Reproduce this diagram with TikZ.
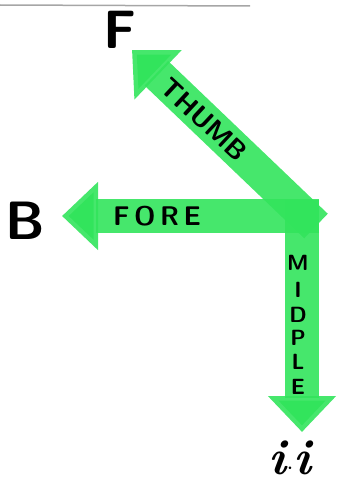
\documentclass[tikz,border=0pt]{standalone}
\usetikzlibrary{arrows.meta}
\definecolor{mkgreen}{RGB}{50,228,92}
\tikzset{
  bigarrow/.style={draw=mkgreen, line width=34pt, draw opacity=0.9,
    -{Triangle[width=66pt,length=36pt]}},
  lbl/.style={font=\sffamily\bfseries\fontsize{27}{27}\selectfont, inner sep=0pt},
  vlet/.style={font=\sffamily\bfseries\fontsize{22}{22}\selectfont, inner sep=0pt},
  axis/.style={font=\sffamily\bfseries\fontsize{54}{54}\selectfont, inner sep=0pt}
}
\begin{document}
\begin{tikzpicture}[x=1pt,y=-1pt]
\useasboundingbox (0,0) rectangle (339,487);
\draw[gray!70, line width=1.5pt] (0,5) -- (250,6);
\coordinate (Ot) at (316,226);
\coordinate (Of) at (319,216);
\coordinate (Om) at (302,200);
\coordinate (Tt) at (132,50);
\coordinate (Tf) at (62,216);
\coordinate (Tm) at (302,432);
\draw[bigarrow] (Of) -- (Tf);
\draw[bigarrow] (Om) -- (Tm);
\draw[bigarrow] (Ot) -- (Tt);
\node[lbl, rotate=-43] (thumb) at (204,120) {THUMB};
\node[lbl] (fore) at (157,216) {F\,O\,R\,E};
\node[vlet] (m1) at (298,263) {M};
\node[vlet] (m2) at (298,290) {I};
\node[vlet] (m3) at (298,315) {D};
\node[vlet] (m4) at (298,338) {P};
\node[vlet] (m5) at (298,362) {L};
\node[vlet] (m6) at (298,387) {E};
\node[axis] (F) at (120,30) {F};
\node[axis] (B) at (25,221) {B};
\node[font=\bfseries\itshape\fontsize{50}{50}\selectfont, inner sep=0pt] (ii) at (290,458) {i$\cdot$i};
\end{tikzpicture}
\end{document}
